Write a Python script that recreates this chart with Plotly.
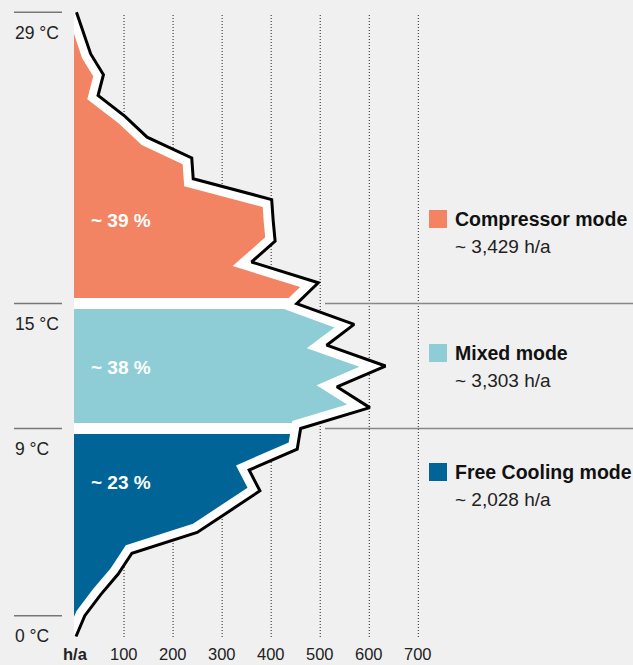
import numpy as np
import plotly.graph_objects as go

# ---------------- data ----------------
temps = list(range(-1, 30))
hours = [2, 20, 52, 88, 116, 249, 313, 377, 355, 453, 460, 601, 534, 633, 513,
         569, 452, 496, 360, 408, 404, 401, 241, 238, 147, 102, 47, 58, 32, 18, 3]

mode_names = ["Compressor mode", "Mixed mode", "Free Cooling mode"]
mode_hours = ["~ 3,429 h/a", "~ 3,303 h/a", "~ 2,028 h/a"]
mode_share = ["~ 39 %", "~ 38 %", "~ 23 %"]
mode_low = [15, 9, -2]
mode_high = [30, 15, 9]
mode_colors = ["#F28463", "#8ECDD6", "#006496"]
share_temp = [19.0, 11.95, 6.4]

temp_marks = [29, 15, 9, 0]
temp_labels = ["29 °C", "15 °C", "9 °C", "0 °C"]
x_ticks = [0, 100, 200, 300, 400, 500, 600, 700]
x_tick_labels = ["<b>h/a</b>", "100", "200", "300", "400", "500", "600", "700"]
grid_ticks = [100, 200, 300, 400, 500, 600, 700]

# ---------------- scales (pixel layout) ----------------
W, H = 633, 665
OX, OY = 75.0, 615.7        # pixel of (0 h/a, 0 degC)
PXH, PXT = 0.4905, 20.807   # px per h/a, px per degC


def px2x(px):
    return (px - OX) / PXH


def py2t(py):
    return (OY - py) / PXT


# inward offset of the profile (in pixel space)
P = np.array([[h * PXH, t * PXT] for h, t in zip(hours, temps)])
seg = P[1:] - P[:-1]
u = seg / np.linalg.norm(seg, axis=1)[:, None]
nrm = np.stack([-u[:, 1], u[:, 0]], axis=1)
D = 9.5
Q = [P[0] + D * nrm[0]]
for i in range(1, len(P) - 1):
    n1, n2 = nrm[i - 1], nrm[i]
    Q.append(P[i] + D * (n1 + n2) / (1 + n1 @ n2))
Q.append(P[-1] + D * nrm[-1])
poly = [tuple(q) for q in Q] + [(-200.0, Q[-1][1]), (-200.0, Q[0][1])]


def clip_half(pg, a, c):
    a = np.array(a)
    out = []
    for i in range(len(pg)):
        cur, prev = np.array(pg[i]), np.array(pg[i - 1])
        cin, pin = a @ cur >= c, a @ prev >= c
        if cin != pin:
            t = (c - a @ prev) / (a @ (cur - prev))
            out.append(tuple(prev + t * (cur - prev)))
        if cin:
            out.append(tuple(cur))
    return out


GAP = 5.5
fig = go.Figure()

# dotted grid
gx, gy = [], []
for v in grid_ticks:
    gx += [v, v, None]
    gy += [-1.02, 28.9, None]
fig.add_trace(go.Scatter(x=gx, y=gy, mode="lines",
                         line=dict(color="#444444", width=1.2, dash="1px,2px"),
                         hoverinfo="skip"))

# white area under the profile
fig.add_trace(go.Scatter(x=[-2] + hours + [-2], y=[temps[0]] + temps + [temps[-1]],
                         fill="toself", fillcolor="white", mode="none",
                         hoverinfo="skip"))

# coloured bands
for lo, hi, col in zip(mode_low, mode_high, mode_colors):
    ylo = lo * PXT + (GAP if lo > 0 else 0)
    yhi = hi * PXT - (GAP if hi < 29 else 0)
    pg = clip_half(poly, (1, 0), -1.0)
    pg = clip_half(pg, (0, 1), ylo)
    pg = clip_half(pg, (0, -1), -yhi)
    xs = [p[0] / PXH for p in pg] + [pg[0][0] / PXH]
    ys = [p[1] / PXT for p in pg] + [pg[0][1] / PXT]
    fig.add_trace(go.Scatter(x=xs, y=ys, fill="toself", fillcolor=col,
                             mode="none", hoverinfo="skip"))

# black profile line
fig.add_trace(go.Scatter(x=hours, y=temps, mode="lines",
                         line=dict(color="black", width=3), hoverinfo="skip"))

shapes = []
ann = []
FONT = "Liberation Sans, Arial, sans-serif"

for t, lab in zip(temp_marks, temp_labels):
    shapes.append(dict(type="line", x0=px2x(14), x1=px2x(62), y0=t, y1=t,
                       line=dict(color="#777777", width=1.5)))
    ann.append(dict(x=px2x(13), y=t - 20.5 / PXT, text=lab, showarrow=False,
                    xanchor="left", yanchor="middle",
                    font=dict(family=FONT, size=17.5, color="#222222")))

for t in [15, 9]:
    shapes.append(dict(type="line", x0=px2x(325), x1=px2x(640), y0=t, y1=t,
                       line=dict(color="#888888", width=1.5)))

for v, lab in zip(x_ticks, x_tick_labels):
    ann.append(dict(x=v, y=py2t(653.5), text=lab, showarrow=False,
                    xanchor="center", yanchor="middle", borderpad=0,
                    font=dict(family=FONT, size=16.5, color="#222222")))

for s, t in zip(mode_share, share_temp):
    ann.append(dict(x=px2x(89), y=t, text="<b>" + s + "</b>", showarrow=False,
                    xanchor="left", yanchor="middle",
                    font=dict(family=FONT, size=19, color="white")))

leg_y = [219, 353, 472]
for name, hh, col, yc in zip(mode_names, mode_hours, mode_colors, leg_y):
    shapes.append(dict(type="rect", x0=px2x(429), x1=px2x(447),
                       y0=py2t(yc - 9), y1=py2t(yc + 9),
                       fillcolor=col, line=dict(width=0)))
    ann.append(dict(x=px2x(453), y=py2t(yc), text="<b>" + name + "</b>",
                    showarrow=False, xanchor="left", yanchor="middle",
                    font=dict(family=FONT, size=19.5, color="#111111")))
    ann.append(dict(x=px2x(453), y=py2t(yc + 27), text=hh,
                    showarrow=False, xanchor="left", yanchor="middle",
                    font=dict(family=FONT, size=19, color="#222222")))

fig.update_layout(
    width=W, height=H, autosize=False,
    margin=dict(l=0, r=0, t=0, b=0),
    paper_bgcolor="#F0F0F0", plot_bgcolor="#F0F0F0",
    showlegend=False,
    xaxis=dict(range=[px2x(0), px2x(W)], visible=False, fixedrange=True),
    yaxis=dict(range=[py2t(H), py2t(0)], visible=False, fixedrange=True),
    shapes=shapes, annotations=ann,
)

fig.write_html(
    "out.html",
    config={"displayModeBar": False},
    post_script="document.body.style.margin='0';document.body.style.padding='0';"
                "document.body.style.overflow='hidden';"
                "document.body.style.background='#F0F0F0';",
)
